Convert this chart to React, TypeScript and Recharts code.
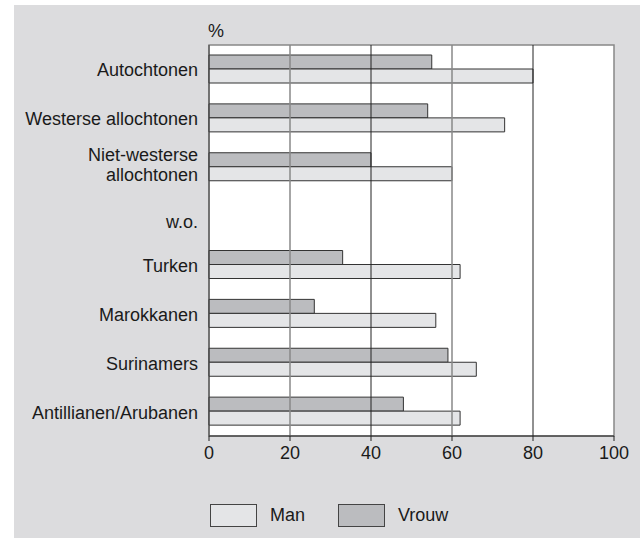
import React from "react";
import { BarChart, Bar, XAxis, YAxis, ReferenceArea, ReferenceLine, Legend } from "recharts";

const categories = [
  "Autochtonen",
  "Westerse allochtonen",
  "Niet-westerse\nallochtonen",
  "w.o.",
  "Turken",
  "Marokkanen",
  "Surinamers",
  "Antillianen/Arubanen",
];
const vrouwValues = [55, 54, 40, null, 33, 26, 59, 48];
const manValues = [80, 73, 60, null, 62, 56, 66, 62];
const xTicks = [0, 20, 40, 60, 80, 100];

const data = categories.map((name, i) => ({
  name,
  Vrouw: vrouwValues[i],
  Man: manValues[i],
}));

const FONT = "'Liberation Sans', Arial, Helvetica, sans-serif";
const FS = 18;
const TEXT = "#1a1a1a";
const MAN_FILL = "#e4e5e7";
const VROUW_FILL = "#bbbcbf";

const YTick = ({ x, y, payload }: any) => {
  const lines: string[] = String(payload.value).split("\n");
  if (lines.length > 1) {
    return (
      <text x={x} y={y} textAnchor="end" fill={TEXT} fontSize={FS} fontFamily={FONT}>
        <tspan x={x} dy={-6.5}>{lines[0]}</tspan>
        <tspan x={x} dy={20.5}>{lines[1]}</tspan>
      </text>
    );
  }
  // the "w.o." label sits a little lower than its band centre
  const dy = payload.value === "w.o." ? 12 : 7;
  return (
    <text x={x} y={y + dy} textAnchor="end" fill={TEXT} fontSize={FS} fontFamily={FONT}>
      {payload.value}
    </text>
  );
};

const LegendContent = () => {
  const items = [
    { label: "Man", fill: MAN_FILL },
    { label: "Vrouw", fill: VROUW_FILL },
  ];
  return (
    <div style={{ display: "flex", alignItems: "center", fontFamily: FONT, fontSize: FS, color: TEXT }}>
      {items.map((it, i) => (
        <div key={it.label} style={{ display: "flex", alignItems: "center", marginRight: i === 0 ? 33 : 0 }}>
          <div
            style={{
              width: 45,
              height: 21,
              background: it.fill,
              border: "1px solid #444",
              marginRight: 13,
            }}
          />
          <span>{it.label}</span>
        </div>
      ))}
    </div>
  );
};

export default function App() {
  return (
    <div
      style={{
        position: "absolute",
        left: 14,
        top: 5,
        width: 626,
        height: 533,
        background: "#dcdcde",
      }}
    >
      <div
        style={{
          position: "absolute",
          left: 194,
          top: 17,
          fontFamily: FONT,
          fontSize: FS,
          color: TEXT,
          lineHeight: "18px",
        }}
      >
        %
      </div>
      <BarChart
        width={626}
        height={533}
        data={data}
        layout="vertical"
        margin={{ top: 40, right: 26, left: 0, bottom: 72 }}
        barSize={14}
        barGap={0}
      >
        <ReferenceArea x1={0} x2={100} fill="#ffffff" fillOpacity={1} stroke="#888" strokeWidth={1.5} ifOverflow="visible" />
        <ReferenceLine x={20} stroke="#888" strokeWidth={1.5} />
        <ReferenceLine x={40} stroke="#222" strokeWidth={1} />
        <ReferenceLine x={60} stroke="#888" strokeWidth={1.5} />
        <ReferenceLine x={80} stroke="#222" strokeWidth={1} />
        <XAxis
          type="number"
          domain={[0, 100]}
          ticks={xTicks}
          height={30}
          tickSize={5}
          tickMargin={5}
          axisLine={{ stroke: "#222" }}
          tickLine={{ stroke: "#222" }}
          tick={{ fill: TEXT, fontSize: FS, fontFamily: FONT }}
        />
        <YAxis
          type="category"
          dataKey="name"
          width={195}
          tickSize={0}
          tickMargin={11}
          tickLine={false}
          axisLine={{ stroke: "#444" }}
          interval={0}
          tick={<YTick />}
        />
        <Bar dataKey="Vrouw" fill={VROUW_FILL} stroke="#333" strokeWidth={1} isAnimationActive={false} />
        <Bar dataKey="Man" fill={MAN_FILL} stroke="#333" strokeWidth={1} isAnimationActive={false} />
        <Legend
          verticalAlign="middle"
          align="center"
          layout="horizontal"
          content={<LegendContent />}
          wrapperStyle={{ top: 499, left: 196, width: 300, height: 24 }}
        />
      </BarChart>
    </div>
  );
}
